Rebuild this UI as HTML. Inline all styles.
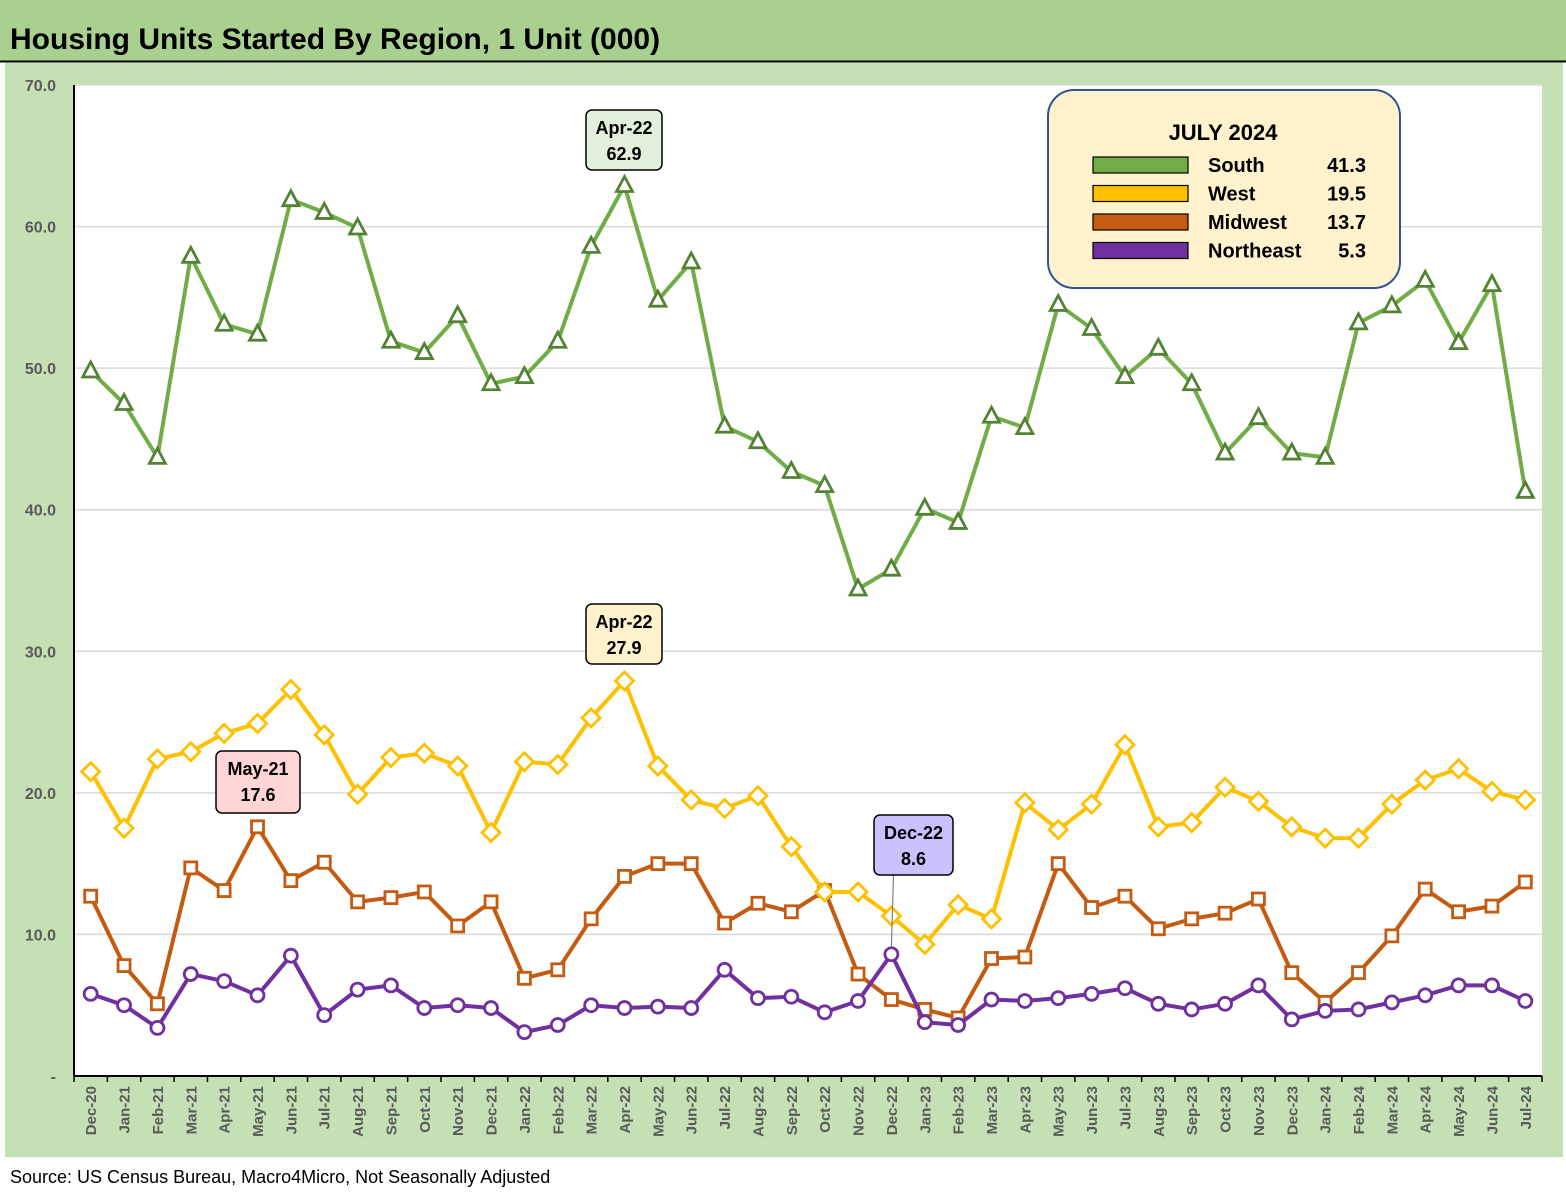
<!DOCTYPE html>
<html><head><meta charset="utf-8"><style>
body{margin:0;width:1566px;height:1194px;background:#fff;overflow:hidden;font-family:"Liberation Sans",sans-serif}
</style></head><body>
<svg width="1566" height="1194" xmlns="http://www.w3.org/2000/svg" id="svg" style="font-family:'Liberation Sans',sans-serif">
<rect x="0" y="0" width="1566" height="61" fill="#a9d08e"/>
<line x1="0" y1="61.5" x2="1566" y2="61.5" stroke="#000" stroke-width="2"/>
<text x="10" y="49" font-size="30" font-weight="bold" fill="#000">Housing Units Started By Region, 1 Unit (000)</text>
<rect x="5" y="63" width="1558" height="1094" fill="#c5e0b4"/>
<rect x="74" y="85" width="1468" height="991" fill="#fff"/>
<g id="grid"></g><g id="series"></g><g id="axes"></g>
<text x="10" y="1183" font-size="18" fill="#000">Source: US Census Bureau, Macro4Micro, Not Seasonally Adjusted</text>
</svg>
<script>
const categories=["Dec-20","Jan-21","Feb-21","Mar-21","Apr-21","May-21","Jun-21","Jul-21","Aug-21","Sep-21","Oct-21","Nov-21","Dec-21","Jan-22","Feb-22","Mar-22","Apr-22","May-22","Jun-22","Jul-22","Aug-22","Sep-22","Oct-22","Nov-22","Dec-22","Jan-23","Feb-23","Mar-23","Apr-23","May-23","Jun-23","Jul-23","Aug-23","Sep-23","Oct-23","Nov-23","Dec-23","Jan-24","Feb-24","Mar-24","Apr-24","May-24","Jun-24","Jul-24"];
const south=[49.8,47.5,43.7,57.9,53.1,52.4,61.9,61.0,59.9,51.9,51.1,53.7,48.9,49.4,51.9,58.6,62.9,54.8,57.5,45.9,44.8,42.7,41.7,34.4,35.8,40.1,39.1,46.6,45.8,54.5,52.8,49.4,51.4,48.9,44.0,46.5,44.0,43.7,53.2,54.4,56.2,51.8,55.9,41.3];
const west=[21.5,17.5,22.4,22.9,24.2,24.9,27.3,24.1,19.9,22.5,22.8,21.9,17.2,22.2,22.0,25.3,27.9,21.9,19.5,18.9,19.8,16.2,13.0,13.0,11.3,9.3,12.1,11.1,19.3,17.4,19.2,23.4,17.6,17.9,20.4,19.4,17.6,16.8,16.8,19.2,20.9,21.7,20.1,19.5];
const midwest=[12.7,7.8,5.1,14.7,13.1,17.6,13.8,15.1,12.3,12.6,13.0,10.6,12.3,6.9,7.5,11.1,14.1,15.0,15.0,10.8,12.2,11.6,13.1,7.2,5.4,4.7,4.1,8.3,8.4,15.0,11.9,12.7,10.4,11.1,11.5,12.5,7.3,5.2,7.3,9.9,13.2,11.6,12.0,13.7];
const northeast=[5.8,5.0,3.4,7.2,6.7,5.7,8.5,4.3,6.1,6.4,4.8,5.0,4.8,3.1,3.6,5.0,4.8,4.9,4.8,7.5,5.5,5.6,4.5,5.3,8.6,3.8,3.6,5.4,5.3,5.5,5.8,6.2,5.1,4.7,5.1,6.4,4.0,4.6,4.7,5.2,5.7,6.4,6.4,5.3];
const yTicks=[0,10,20,30,40,50,60,70];
const yTickLabels=["-","10.0","20.0","30.0","40.0","50.0","60.0","70.0"];
const legendNames=["South","West","Midwest","Northeast"];
const legendValues=["41.3","19.5","13.7","5.3"];

const NS="http://www.w3.org/2000/svg";
const X0=74,X1=1542,Y0=1076,Y1=85,YMAX=70;
const step=(X1-X0)/categories.length;
const xs=i=>X0+step*(i+0.5);
const ys=v=>Y0-(v/YMAX)*(Y0-Y1);
function mk(tag,attrs,parent){const e=document.createElementNS(NS,tag);for(const k in attrs)e.setAttribute(k,attrs[k]);parent.appendChild(e);return e;}
const grid=document.getElementById('grid'),ser=document.getElementById('series'),ax=document.getElementById('axes'),svg=document.getElementById('svg');

yTicks.forEach((t,i)=>{
  if(t>0){const l=mk('line',{x1:X0,x2:X1,y1:ys(t),y2:ys(t),stroke:'#d9d9d9','stroke-width':1.5},grid);
  
  }
  const tx=mk('text',{x:56,y:ys(t)+6,'font-size':16,'font-weight':'bold',fill:'#595959','text-anchor':'end'},ax);
  tx.textContent=yTickLabels[i];
  
  
});
mk('line',{x1:X0,x2:X0,y1:Y1,y2:Y0,stroke:'#000','stroke-width':2},ax);
mk('line',{x1:X0,x2:X1,y1:Y0,y2:Y0,stroke:'#000','stroke-width':2},ax);
for(let i=0;i<=categories.length;i++){mk('line',{x1:X0+step*i,x2:X0+step*i,y1:Y0,y2:Y0+6,stroke:'#000','stroke-width':1.5},ax);}
categories.forEach((c,i)=>{
  const x=xs(i)+5.5;
  const t=mk('text',{x:x,y:1086,'font-size':15,'font-weight':'bold',fill:'#595959','text-anchor':'end',transform:`rotate(-90 ${x} 1086)`},ax);
  t.textContent=c;
  
  
});

function marker(type,x,y,col,g){
  let e;
  if(type==='tri') e=mk('polygon',{points:`${x},${y-9} ${x+8},${y+6} ${x-8},${y+6}`},g);
  else if(type==='dia') e=mk('polygon',{points:`${x},${y-9} ${x+9},${y} ${x},${y+9} ${x-9},${y}`},g);
  else if(type==='sq') e=mk('rect',{x:x-6,y:y-6,width:12,height:12},g);
  else e=mk('circle',{cx:x,cy:y,r:6.5},g);
  e.setAttribute('fill','#fff');e.setAttribute('stroke',col);e.setAttribute('stroke-width',2.8);
  return e;
}
function drawSeries(data,name,line,mcol,type){
  const g=mk('g',{},ser);
  
  
  const p=mk('polyline',{points:data.map((v,i)=>xs(i)+','+ys(v)).join(' '),fill:'none',stroke:line,'stroke-width':4,'stroke-linejoin':'round'},g);
  
  
  data.forEach((v,i)=>{const m=marker(type,xs(i),ys(v),mcol,g);
    
    });
}
drawSeries(midwest,'midwest','#c55a11','#c55a11','sq');
drawSeries(northeast,'northeast','#7030a0','#7030a0','circ');
drawSeries(west,'west','#ffc000','#ffc000','dia');
drawSeries(south,'south','#70ad47','#548235','tri');

function callout(idx,arr,label,fill,bx,by,w,h,leader){
  const g=mk('g',{},svg);
  
  
  if(leader) mk('line',{x1:bx+w/2-20,y1:by+h,x2:xs(idx),y2:ys(arr[idx])-7,stroke:'#7f7f7f','stroke-width':1.2},g);
  mk('rect',{x:bx,y:by,width:w,height:h,rx:6,fill:fill,stroke:'#000','stroke-width':1.5},g);
  const t1=mk('text',{x:bx+w/2,y:by+24,'font-size':18,'font-weight':'bold','text-anchor':'middle'},g);t1.textContent=label;
  const t2=mk('text',{x:bx+w/2,y:by+50,'font-size':18,'font-weight':'bold','text-anchor':'middle'},g);t2.textContent=arr[idx].toFixed(1);
}
callout(16,south,'Apr-22','#e2efda',586,110,76,60,false);
callout(16,west,'Apr-22','#fff2cc',586,604,76,60,false);
callout(5,midwest,'May-21','#ffd5d5',216,751,84,62,false);
callout(24,northeast,'Dec-22','#ccc0ff',874,815,79,60,true);

const lg=mk('g',{},svg);


mk('rect',{x:1048,y:90,width:352,height:198,rx:26,fill:'#fff2cc',stroke:'#2f5597','stroke-width':2},lg);
const lt=mk('text',{x:1223,y:140,'font-size':22,'font-weight':'bold','text-anchor':'middle'},lg);lt.textContent='JULY 2024';
const lcols=['#70ad47','#ffc000','#c55a11','#7030a0'];
legendNames.forEach((n,i)=>{
  const y=165+i*28.5;
  const e=mk('g',{},lg);
  
  
  mk('rect',{x:1093,y:y-8,width:95,height:16,fill:lcols[i],stroke:'#000','stroke-width':1.2},e);
  const a=mk('text',{x:1208,y:y+7,'font-size':20,'font-weight':'bold'},e);a.textContent=n;
  const b=mk('text',{x:1366,y:y+7,'font-size':20,'font-weight':'bold','text-anchor':'end'},e);b.textContent=legendValues[i];
});
</script>
</body></html>
